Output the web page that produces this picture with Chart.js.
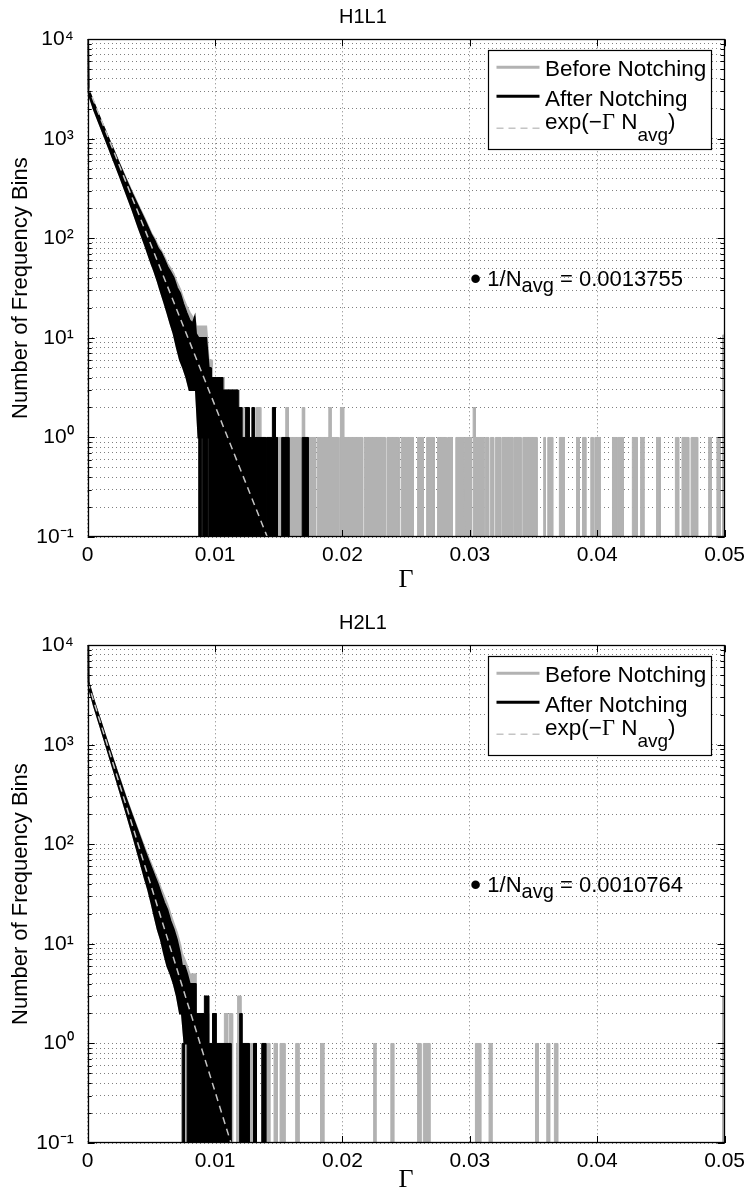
<!DOCTYPE html>
<html><head><meta charset="utf-8">
<script src="https://cdn.jsdelivr.net/npm/chart.js@4.4.1/dist/chart.umd.min.js"></script>
<style>
html,body{margin:0;padding:0;background:#fff;}
#w{position:relative;width:751px;height:1199px;overflow:hidden;}
canvas{position:absolute;left:0;}
</style></head><body>
<div id="w">
<canvas id="c1" width="751" height="600" style="top:0px"></canvas>
<canvas id="c2" width="751" height="593" style="top:606px"></canvas>
</div>
<script>
// ---------------- DATA ----------------
const panelTitles = ['H1L1', 'H2L1'];
const xTickValues = [0, 0.01, 0.02, 0.03, 0.04, 0.05];
const xTickLabels = ['0', '0.01', '0.02', '0.03', '0.04', '0.05'];
const yDecades = [0.1, 1, 10, 100, 1000, 10000];
const yDecadeLabels = ['10\u207B\u00B9', '10\u2070', '10\u00B9', '10\u00B2', '10\u00B3', '10\u2074'];
const legendLabels = ['Before Notching', 'After Notching', 'exp(\u2212\u0393 N_avg)'];
const annotTexts = ['\u2022 1/N_avg = 0.0013755', '\u2022 1/N_avg = 0.0010764'];
const annotG = [0.0301, 0.0301];
const annotN = [40, 40];

// Panel 1 (H1L1): band region (Gamma, lower / upper envelope of counts)
const bandG1 = [0, 0.00005, 0.0005, 0.001, 0.0015, 0.002, 0.0025, 0.003, 0.0035, 0.004, 0.0045, 0.005, 0.00525, 0.0055, 0.00575, 0.006, 0.00625, 0.0065, 0.00675, 0.007, 0.00725, 0.0075, 0.00775, 0.008, 0.00825, 0.0084, 0.0085, 0.0087, 0.009, 0.0093, 0.0095, 0.0097];
const afterHi1 = [30000, 3150, 2250, 1560, 1100, 780, 550, 390, 280, 205, 150, 108, 95, 80, 72, 62, 52, 46, 40, 32, 28, 22, 18, 15, 14, 16, 11, 10, 10, 10, 5, 5];
const afterLo1 = [30000, 2900, 1950, 1340, 920, 630, 430, 290, 195, 128, 86, 56, 46, 37, 29, 23, 18, 14, 11, 8, 6, 5, 4, 3, 3, 3, 3, 1, 1, 1, 1, 1];
const beforeHi1 = [30000, 3150, 2260, 1570, 1110, 790, 560, 400, 290, 212, 156, 112, 100, 85, 76, 66, 56, 50, 44, 36, 31, 25, 21, 18, 16, 16, 13, 13, 13, 13, 6, 6];
const beforeLo1 = [30000, 2900, 1950, 1340, 920, 630, 430, 290, 195, 128, 86, 56, 46, 37, 29, 23, 18, 14, 11, 8, 6, 5, 4, 3, 3, 3, 3, 1, 1, 1, 1, 1];
// Panel 1 tail: [Gamma start, Gamma end, count]
const afterTail1 = [[0.00872,0.0089,1],[0.00903,0.00938,1],[0.0095,0.0097,5],[0.0097,0.0106,4],[0.0106,0.0118,3],[0.0118,0.0121,2],[0.0121,0.01398,1],[0.01237,0.01268,2],[0.01289,0.01307,2],[0.01404,0.01489,1],[0.0145,0.01474,2],[0.01523,0.0158,1],[0.01684,0.01731,1]];
const beforeTail1 = [[0.0087,0.01398,1],[0.0093,0.0098,6],[0.0098,0.0107,4],[0.0107,0.0119,3],[0.0119,0.0122,2],[0.0132,0.01359,2],[0.01404,0.01789,1],[0.01555,0.01575,2],[0.01684,0.01703,2],[0.01801,0.01971,1],[0.01893,0.01911,2],[0.01979,0.02159,1],[0.01984,0.0201,2],[0.02172,0.02336,1],[0.02349,0.02445,1],[0.02461,0.02557,1],[0.0259,0.02635,1],[0.02661,0.02721,1],[0.02747,0.02817,1],[0.02825,0.02862,1],[0.0289,0.02955,1],[0.02961,0.03013,1],[0.03026,0.03112,1],[0.03026,0.03044,2],[0.03122,0.03148,1],[0.03161,0.03187,1],[0.032,0.03242,1],[0.03252,0.03338,1],[0.03346,0.03403,1],[0.03416,0.03528,1],[0.0358,0.03593,1],[0.03612,0.03651,1],[0.03703,0.03742,1],[0.03838,0.03859,1],[0.03885,0.03911,1],[0.0395,0.03969,1],[0.03981,0.04023,1],[0.0412,0.04153,1],[0.04159,0.04205,1],[0.04276,0.04315,1],[0.04341,0.04367,1],[0.04466,0.04497,1],[0.04614,0.0464,1],[0.04666,0.04719,1],[0.04737,0.04789,1],[0.04875,0.04895,1],[0.0494,0.04966,1],[0.04984,0.05,10.7]];
const expG1 = [0, 0.0141];
const expN1 = [3400, 0.1];

// Panel 2 (H2L1)
const bandG2 = [0, 0.00005, 0.0005, 0.001, 0.0015, 0.002, 0.0025, 0.003, 0.0035, 0.004, 0.0045, 0.00475, 0.005, 0.00525, 0.0055, 0.00575, 0.006, 0.00625, 0.0065, 0.00675, 0.007, 0.00725, 0.0074, 0.0076, 0.0078, 0.008];
const afterHi2 = [40000, 4300, 2720, 1730, 1100, 700, 450, 290, 192, 128, 85, 70, 58, 48, 40, 32, 26, 22, 17, 14, 11, 8, 6, 6, 5, 4];
const afterLo2 = [40000, 3950, 2450, 1520, 940, 580, 355, 215, 130, 77, 45, 35, 26, 19, 14, 11, 8, 6, 5, 4, 3, 2, 2, 1, 1, 1];
const beforeHi2 = [40000, 4300, 2730, 1740, 1110, 710, 460, 298, 198, 133, 90, 75, 63, 52, 44, 36, 30, 25, 20, 16, 13, 10, 8, 7, 6, 5];
const beforeLo2 = [40000, 3950, 2450, 1520, 940, 580, 355, 215, 130, 77, 45, 35, 26, 19, 14, 11, 8, 6, 5, 4, 3, 2, 2, 1, 1, 1];
const afterTail2 = [[0.00742,0.0076,1],[0.00781,0.0085,4],[0.0085,0.0094,2],[0.00916,0.0095,3],[0.0094,0.01125,1],[0.0098,0.01008,2],[0.0119,0.01268,1],[0.01195,0.01211,2],[0.01302,0.01325,1],[0.01367,0.01398,1]];
const beforeTail2 = [[0.00742,0.01073,1],[0.00781,0.0085,5],[0.0085,0.0095,2],[0.01073,0.01099,2],[0.01099,0.01112,1],[0.01112,0.01138,2],[0.01169,0.01294,1],[0.01177,0.01203,3],[0.01302,0.01325,1],[0.01367,0.0143,1],[0.01463,0.01489,1],[0.0151,0.01549,1],[0.01633,0.01659,1],[0.01828,0.01854,1],[0.02245,0.02263,1],[0.0238,0.02403,1],[0.0259,0.02617,1],[0.02635,0.02687,1],[0.03044,0.03086,1],[0.03151,0.03174,1],[0.03516,0.03539,1],[0.03604,0.03627,1],[0.03664,0.0369,1],[0.04984,0.05,3]];
const expG2 = [0, 0.01125];
const expN2 = [4300, 0.1];

// ---------------- STYLE ----------------
const SANS = "'Liberation Sans', Arial, Helvetica, sans-serif";
const SERIF = "'Liberation Serif', 'Times New Roman', serif";
const GRAY = '#b2b2b2';
const DASH = '#c4c4c4';
const GRID = 'rgba(0,0,0,0.5)';
const FLOOR = yDecades[0];
Chart.defaults.font.family = SANS;
Chart.defaults.color = '#000';

function pts(g, v) { return g.map((x, i) => ({x: x, y: v[i]})); }
function tailPts(blocks) {
  const xs = [...new Set(blocks.flatMap(b => [b[0], b[1]]))].sort((a, b) => a - b);
  const out = [];
  for (let i = 0; i < xs.length - 1; i++) {
    const a = xs[i], b = xs[i + 1], m = (a + b) / 2;
    let h = 0;
    for (const bl of blocks) if (bl[0] <= m && m <= bl[1]) h = Math.max(h, bl[2]);
    const y = h > 0 ? h : FLOOR;
    if (i === 0) out.push({x: a, y: FLOOR});
    out.push({x: a, y: y}, {x: b, y: y});
  }
  out.push({x: xs[xs.length - 1], y: FLOOR});
  return out;
}

const yTicksAll = [];
yDecades.forEach((d, i) => {
  yTicksAll.push(d);
  if (i < yDecades.length - 1) for (let m = 2; m <= 9; m++) yTicksAll.push(+(d * m).toPrecision(3));
});

function richParts(text) {
  return text.split(/(_avg|\u0393|\u2022)/).filter(s => s.length).map(s => {
    if (s === '_avg') return {t: 'avg', sub: true};
    if (s === '\u0393') return {t: s, serif: true};
    if (s === '\u2022') return {t: s, big: true};
    return {t: s};
  });
}
function drawRich(ctx, text, x, y, size, subSize, subDy) {
  ctx.textBaseline = 'alphabetic';
  ctx.textAlign = 'left';
  for (const p of richParts(text)) {
    const fs = p.sub ? subSize : (p.big ? size * 1.45 : size);
    ctx.font = fs + 'px ' + (p.serif ? SERIF : SANS);
    ctx.fillText(p.t, x, y + (p.sub ? subDy : (p.big ? size * 0.12 : 0)));
    x += ctx.measureText(p.t).width;
  }
}

const decor = {
  id: 'decor',
  afterDatasetsDraw(chart, args, opts) {
    const ctx = chart.ctx, ca = chart.chartArea, xs = chart.scales.x, ys = chart.scales.y;
    ctx.save();
    ctx.strokeStyle = '#000';
    ctx.lineWidth = 1;
    ctx.beginPath();
    ys.ticks.forEach(t => {
      const py = Math.round(ys.getPixelForValue(t.value)) + 0.5;
      const L = yDecades.includes(t.value) ? 7 : 4;
      ctx.moveTo(ca.left, py); ctx.lineTo(ca.left + L, py);
      ctx.moveTo(ca.right, py); ctx.lineTo(ca.right - L, py);
    });
    xs.ticks.forEach(t => {
      const px = Math.round(xs.getPixelForValue(t.value)) + 0.5;
      ctx.moveTo(px, ca.bottom); ctx.lineTo(px, ca.bottom - 7);
      ctx.moveTo(px, ca.top); ctx.lineTo(px, ca.top + 7);
    });
    ctx.stroke();
    ctx.lineWidth = 1.3;
    ctx.strokeRect(Math.round(ca.left) + 0.5, Math.round(ca.top) + 0.5, Math.round(ca.width) - 1, Math.round(ca.height) - 1);

    // legend
    const bx = Math.round(ca.right - 237) + 0.5, by = Math.round(ca.top + 10.7) + 0.5, bw = 223, bh = 99;
    ctx.fillStyle = '#fff';
    ctx.fillRect(bx, by, bw, bh);
    ctx.lineWidth = 1.2;
    ctx.strokeStyle = '#000';
    ctx.strokeRect(bx, by, bw, bh);
    const rows = [
      {c: GRAY, w: 3, dash: [], ly: 16.7, ty: 25},
      {c: '#000', w: 3, dash: [], ly: 45.7, ty: 55},
      {c: DASH, w: 1.5, dash: [7, 5], ly: 77.7, ty: 78.3}
    ];
    rows.forEach((r, i) => {
      ctx.beginPath();
      ctx.strokeStyle = r.c; ctx.lineWidth = r.w; ctx.setLineDash(r.dash);
      ctx.moveTo(bx + 8, by + r.ly); ctx.lineTo(bx + 51, by + r.ly);
      ctx.stroke();
      ctx.setLineDash([]);
      ctx.fillStyle = '#000';
      drawRich(ctx, legendLabels[i], bx + 56.5, by + r.ty, 22.5, 19, 12);
    });

    // annotation
    const k = opts.panel;
    const ax = xs.getPixelForValue(annotG[k]);
    const ay = ys.getPixelForValue(annotN[k]);
    ctx.fillStyle = '#000';
    drawRich(ctx, annotTexts[k], ax - 1, ay + 8, 22, 20, 6);
    ctx.restore();
  }
};

function makeChart(id, k, bandG, aHi, aLo, bHi, bLo, aTail, bTail, eG, eN, canvasH, titlePadBottom) {
  const datasets = [
    {label: legendLabels[2], data: pts(eG, eN), borderColor: DASH, borderWidth: 1.5, borderDash: [7, 5], fill: false, order: 0},
    {label: legendLabels[1], data: pts(bandG, aHi), borderColor: '#000', backgroundColor: '#000', borderWidth: 2, fill: '+1', order: 1},
    {label: legendLabels[1] + ' (low)', data: pts(bandG, aLo), borderColor: '#000', borderWidth: 2, fill: false, order: 1},
    {label: legendLabels[1] + ' (tail)', data: tailPts(aTail), borderColor: '#000', backgroundColor: '#000', borderWidth: 1, fill: 'start', order: 1},
    {label: legendLabels[0], data: pts(bandG, bHi), borderColor: GRAY, backgroundColor: GRAY, borderWidth: 2, fill: '+1', order: 2},
    {label: legendLabels[0] + ' (low)', data: pts(bandG, bLo), borderColor: GRAY, borderWidth: 2, fill: false, order: 2},
    {label: legendLabels[0] + ' (tail)', data: tailPts(bTail), borderColor: GRAY, backgroundColor: GRAY, borderWidth: 1, fill: 'start', order: 2}
  ];
  return new Chart(document.getElementById(id), {
    type: 'line',
    data: {datasets: datasets},
    plugins: [decor],
    options: {
      responsive: false,
      animation: false,
      events: [],
      layout: {padding: {left: 0, right: 25.2, top: 0, bottom: 0}},
      elements: {point: {radius: 0}, line: {tension: 0}},
      plugins: {
        legend: {display: false},
        tooltip: {enabled: false},
        title: {display: true, text: panelTitles[k], color: '#000', font: {size: 20, weight: 'normal', family: SANS}, padding: {top: 5, bottom: 10.3}},
        decor: {panel: k}
      },
      scales: {
        x: {
          type: 'linear', min: 0, max: 0.05,
          afterBuildTicks: s => { s.ticks = xTickValues.map(v => ({value: v})); },
          afterFit: s => { s.height = canvasH - 537; },
          ticks: {autoSkip: false, maxRotation: 0, padding: 6, color: '#000', font: {size: 21, family: SANS},
            callback: v => xTickLabels[xTickValues.indexOf(v)]},
          grid: {color: GRID, lineWidth: 1, drawTicks: false},
          border: {display: false, dash: [1, 3]},
          title: {display: true, text: '\u0393', color: '#000', font: {size: 26, family: SERIF}, padding: {top: 0, bottom: titlePadBottom}}
        },
        y: {
          type: 'logarithmic', min: 0.1, max: 10000,
          afterBuildTicks: s => { s.ticks = yTicksAll.map(v => ({value: v})); },
          afterFit: s => { s.width = 87.7; },
          ticks: {autoSkip: false, padding: 14, color: '#000', font: {size: 21, family: SANS},
            callback: v => { const i = yDecades.indexOf(v); return i >= 0 ? yDecadeLabels[i] : ''; }},
          grid: {color: GRID, lineWidth: 1, drawTicks: false},
          border: {display: false, dash: [1, 3]},
          title: {display: true, text: 'Number of Frequency Bins', color: '#000', font: {size: 22, family: SANS}, padding: {top: 8, bottom: 0}}
        }
      }
    }
  });
}

makeChart('c1', 0, bandG1, afterHi1, afterLo1, beforeHi1, beforeLo1, afterTail1, beforeTail1, expG1, expN1, 600, 4.4);
makeChart('c2', 1, bandG2, afterHi2, afterLo2, beforeHi2, beforeLo2, afterTail2, beforeTail2, expG2, expN2, 593, 3.4);
</script>
</body></html>
